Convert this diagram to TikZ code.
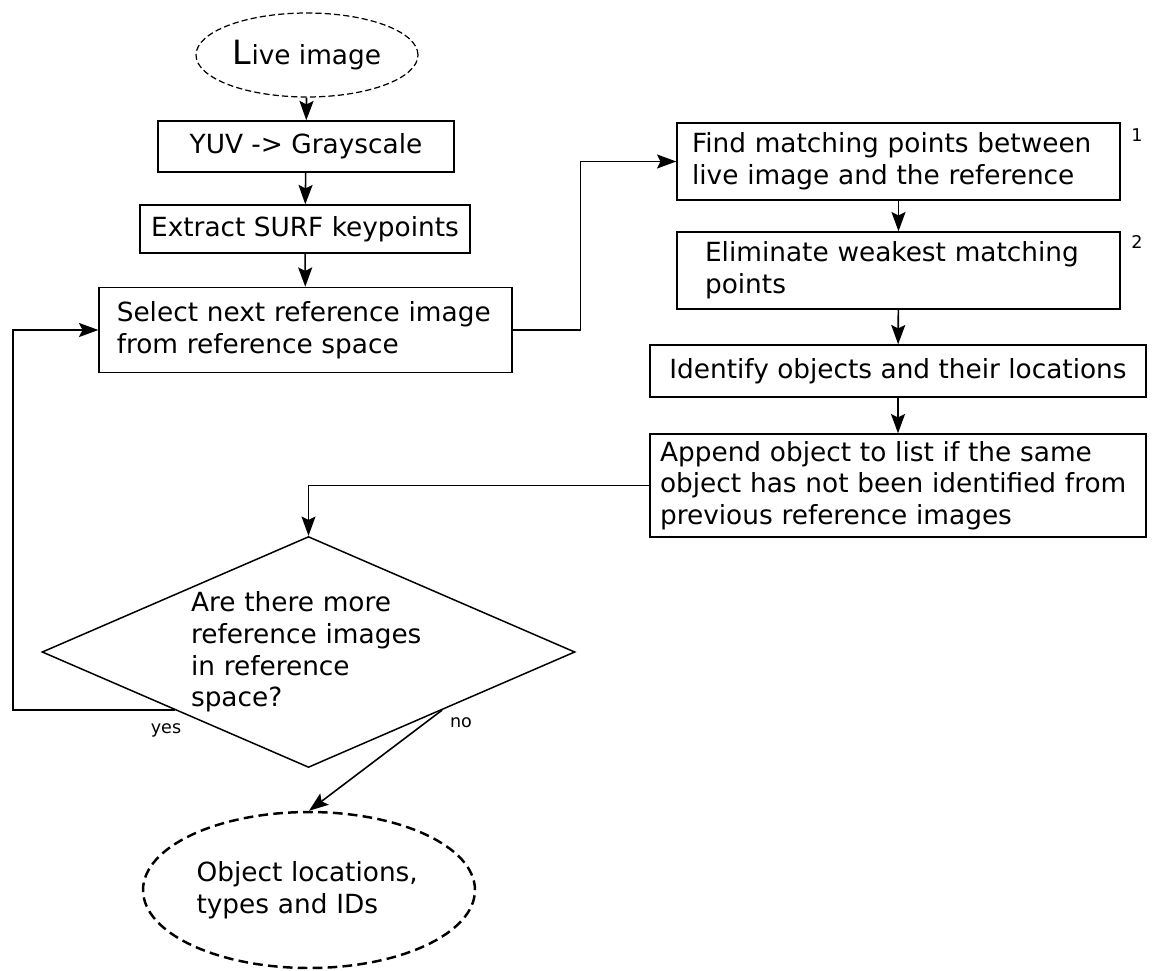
\documentclass[tikz,border=0pt]{standalone}
\usepackage{fontspec}
\setmainfont{DejaVu Sans}
\usetikzlibrary{shapes.geometric, arrows.meta, positioning, calc}
\tikzstyle{arrow}    = [line width=0.9pt, -{Stealth[length=11pt, width=8pt, inset=2pt]}]
\tikzstyle{box}      = [draw, rectangle, line width=0.85pt, inner ysep=0pt, align=left, font=\fontsize{15}{18}\selectfont]
\tikzstyle{terminal} = [draw, ellipse, inner sep=0pt, align=left, font=\fontsize{15}{18}\selectfont]
\tikzstyle{decision} = [draw, diamond, aspect=2.3, line width=0.85pt, inner sep=0pt, align=left, font=\fontsize{15}{18}\selectfont]
\tikzstyle{note}     = [inner sep=0pt, font=\fontsize{10}{12}\selectfont]

\begin{document}
\begin{tikzpicture}[x=0.02cm, y=-0.02cm]
\useasboundingbox (0,0) rectangle (1152,970);

% levy sloupec
\node[terminal, line width=0.7pt, dash pattern=on 3.5pt off 1.8pt, minimum width=4.44cm, minimum height=1.68cm] (live) at (307,55) {{\fontsize{19}{18}\selectfont L}ive image};
\node[box, minimum width=5.92cm, minimum height=1.02cm, align=center] (yuv) at (306,146.5) {YUV -> Grayscale};
\node[box, minimum width=6.6cm, minimum height=0.96cm, align=center] (surf) at (305,229) {Extract SURF keypoints};
\node[box, text width=7.55cm, inner xsep=0.354cm, minimum height=1.7cm] (select) at (305.5,330) {Select next reference image\\from reference space};

% pravy sloupec
\node[box, text width=8.26cm, inner xsep=0.3cm, minimum height=1.54cm] (find) at (898.5,161.5) {Find matching points between\\live image and the reference};
\node[box, text width=7.74cm, inner xsep=0.56cm, minimum height=1.54cm] (elim) at (898.5,270.5) {Eliminate weakest matching\\points};
\node[box, minimum width=9.92cm, minimum height=1.04cm, align=center] (ident) at (898,371) {Identify objects and their locations};
\node[box, text width=9.52cm, inner xsep=0.2cm, minimum height=2.06cm] (append) at (898,485.5) {Append object to list if the same\\object has not been identified from\\previous reference images};

\node[note] (n1) at (1137,135) {1};
\node[note] (n2) at (1137,242) {2};

% rozhodnuti a vystup
\node[decision, text width=4.7cm, minimum width=10.66cm, minimum height=4.62cm] (dec) at (308.5,652) {Are there more\\reference images\\in reference\\space?};
\node[terminal, line width=1.4pt, dash pattern=on 5.5pt off 3pt, text width=4.5cm, minimum width=6.64cm, minimum height=3.12cm] (out) at (309,890) {Object locations,\\types and IDs};

\node[note] (yes) at (166,730) {yes};
\node[note] (no) at (461,723) {no};

% hrany
\draw[arrow] (live) -- (yuv);
\draw[arrow] (yuv) -- (surf);
\draw[arrow] (surf) -- (select);
\draw[arrow] (select.east) -- ++(68,0) |- (find.west);
\draw[arrow] (find) -- (elim);
\draw[arrow] (elim) -- (ident);
\draw[arrow] (ident) -- (append);
\draw[arrow] (append.west) -| (dec.north);
\draw[arrow] ($(dec.west)!0.5!(dec.south)$) -- ++(-162,0) |- (select.west);
\draw[arrow] ($(dec.east)!0.5!(dec.south)$) -- (out.north);

\end{tikzpicture}
\end{document}
